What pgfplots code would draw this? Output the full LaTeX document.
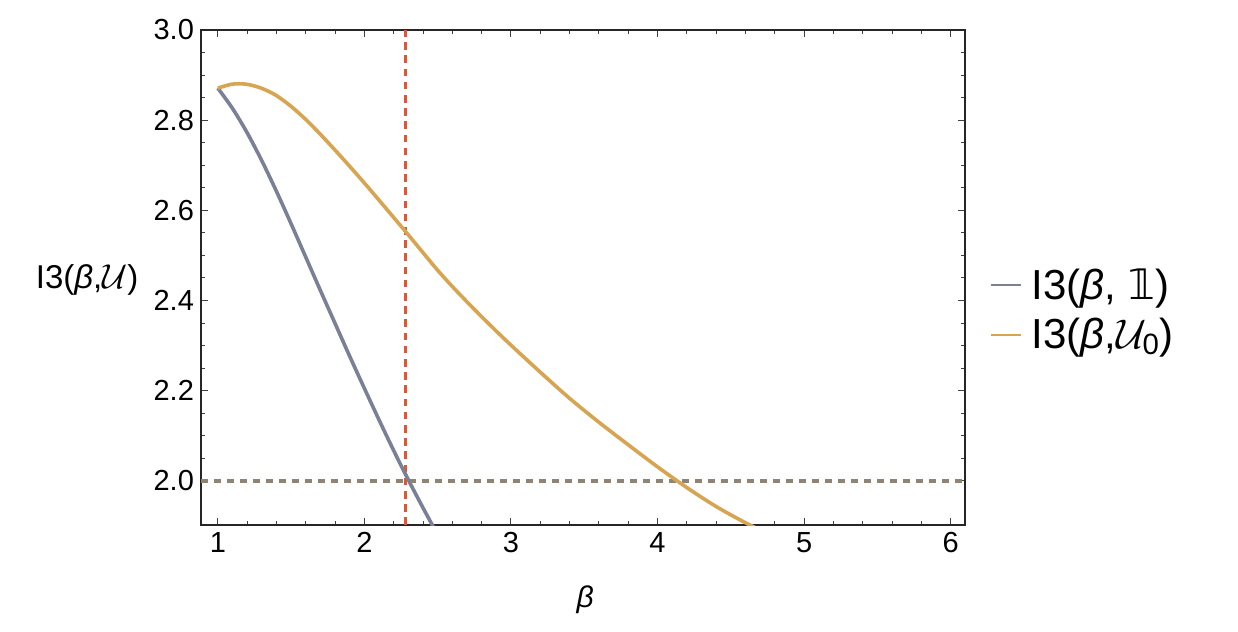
\documentclass[border=0pt]{standalone}
\usepackage{fontspec}
\setmainfont{Liberation Sans}
\newfontfamily\dejavu{DejaVu Sans}
\usepackage{amsmath}
\usepackage{pgfplots}
\pgfplotsset{compat=1.18}

\definecolor{cblue}{RGB}{122,128,150}
\definecolor{corange}{RGB}{215,164,82}
\definecolor{cred}{RGB}{222,86,52}
\definecolor{cgray}{RGB}{142,132,114}

\begin{document}
\begin{tikzpicture}
\useasboundingbox (-100.5pt,-53.5pt) rectangle (518.5pt,262.5pt);
\begin{axis}[
    width=382pt, height=247.5pt, scale only axis,
    xmin=0.885, xmax=6.098,
    ymin=1.902, ymax=3.0,
    xtick={1,2,3,4,5,6},
    ytick={2.0,2.2,2.4,2.6,2.8,3.0},
    minor x tick num=4,
    minor y tick num=3,
    yticklabel style={/pgf/number format/.cd, fixed, fixed zerofill, precision=1},
    /pgf/number format/assume math mode=true,
    ticklabel style={font=\fontsize{14.5}{16}\selectfont},
    tick align=inside,
    major tick length=3.5pt,
    minor tick length=2pt,
    tick style={color=black!75, line width=0.5pt},
    axis line style={line width=0.6pt, color=black!85},
    xlabel={\textit{β}},
    xlabel style={at={(rel axis cs:0.503,-0.152)}, anchor=center, font=\fontsize{15}{17}\selectfont},
    ylabel={I3(\textit{β},$\mathcal{U}$)},
    ylabel style={rotate=-90, at={(rel axis cs:-0.149,0.495)}, anchor=center, font=\fontsize{16.5}{18}\selectfont},
    legend style={at={(rel axis cs:1.024,0.535)}, anchor=north west, draw=none, fill=none,
        font=\fontsize{21}{24}\selectfont, row sep=4pt},
    legend cell align=left,
    legend image code/.code={\draw[#1, line width=1.1pt] (0pt,0pt) -- (15pt,0pt);},
]

% reference lines
\addplot[cgray, line width=1.8pt, dash pattern=on 3.5pt off 3pt, forget plot]
    coordinates {(0.885,2.0) (6.098,2.0)};
\addplot[cred, line width=1.8pt, dash pattern=on 3.8pt off 2.8pt, forget plot]
    coordinates {(2.28,1.902) (2.28,3.0)};

% I3(beta, 1)
\addplot[cblue, line width=1.8pt, smooth] coordinates {
    (1.00,2.871) (1.10,2.826) (1.20,2.772) (1.30,2.710) (1.40,2.642)
    (1.50,2.570) (1.60,2.496) (1.70,2.422) (1.80,2.349) (1.90,2.276)
    (2.00,2.205) (2.10,2.135) (2.20,2.067) (2.30,2.002) (2.40,1.940)
    (2.50,1.880)
};
\addlegendentry{\hspace{3pt}I3(\textit{β}, {\dejavu 𝟙})}

% I3(beta, U0)
\addplot[corange, line width=1.8pt, smooth] coordinates {
    (1.00,2.871) (1.10,2.880) (1.20,2.8795) (1.30,2.8705) (1.40,2.8545)
    (1.50,2.8305) (1.60,2.8015) (1.70,2.7685) (1.80,2.7335) (1.90,2.6975)
    (2.00,2.6605) (2.10,2.6225) (2.20,2.584) (2.30,2.5455) (2.40,2.506)
    (2.50,2.467) (2.60,2.431) (2.70,2.397) (2.80,2.364) (2.90,2.332)
    (3.00,2.301) (3.20,2.241) (3.40,2.183) (3.60,2.130) (3.80,2.080)
    (4.00,2.031) (4.20,1.985) (4.40,1.943) (4.60,1.907) (4.80,1.875)
};
\addlegendentry{\hspace{3pt}I3(\textit{β},$\mathcal{U}_{\text{0}}$)}

\end{axis}
\end{tikzpicture}
\end{document}
